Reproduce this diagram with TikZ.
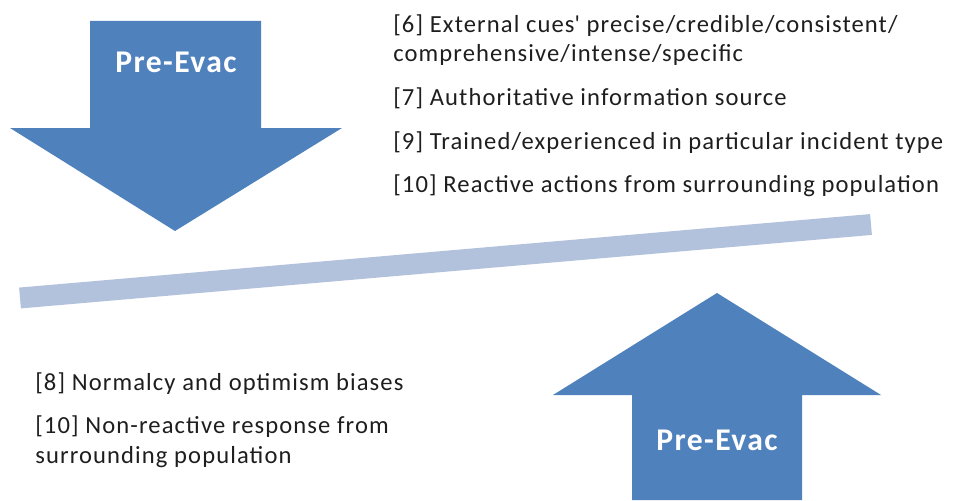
\documentclass[tikz,border=0pt]{standalone}
\usepackage{fontspec}
\setmainfont[LetterSpace=4.5]{Carlito}
\definecolor{evacblue}{HTML}{4F81BD}
\definecolor{beamblue}{HTML}{B2C1DC}
\definecolor{cuetext}{HTML}{1E1E1E}

\begin{document}
\begin{tikzpicture}[
  x=0.02cm,
  y=-0.02cm,
  cue/.style={
    anchor=base west,
    align=left,
    inner sep=0pt,
    text=cuetext,
    font=\fontsize{14}{17}\selectfont
  },
  evaclabel/.style={
    text=white,
    inner sep=0pt,
    font=\fontsize{18}{21}\selectfont\bfseries
  },
  beam/.style={beamblue,line width=0.418cm}
]
  \useasboundingbox (0,0) rectangle (969,500);

  \fill[evacblue] (90,21) -- (261,21) -- (261,128) -- (342,128) -- (175,231)
    -- (10,128) -- (90,128) -- cycle;
  \node[evaclabel] (evacdown) at (176,62) {Pre-Evac};

  \fill[evacblue] (632,500) -- (802,500) -- (802,395) -- (881,395) -- (717,293)
    -- (553,395) -- (632,395) -- cycle;
  \node[evaclabel] (evacup) at (717,440) {Pre-Evac};

  \coordinate (beamleft) at (20,298);
  \coordinate (beamright) at (871,224.5);
  \draw[beam] (beamleft) -- (beamright);

  % multi-line nodes sit on their last baseline
  \node[cue] (cue6) at (393,62)
    {[6] External cues\textquotesingle\ precise/credible/consistent/\\comprehensive/intense/specific};
  \node[cue] (cue7) at (393,106) {[7] Authoritative information source};
  \node[cue] (cue9) at (393,149) {[9] Trained/experienced in particular incident type};
  \node[cue] (cue10) at (393,192) {[10] Reactive actions from surrounding population};

  \node[cue] (cue8) at (35,390) {[8] Normalcy and optimism biases};
  \node[cue] (cue10b) at (35,463) {[10] Non-reactive response from\\surrounding population};
\end{tikzpicture}
\end{document}
